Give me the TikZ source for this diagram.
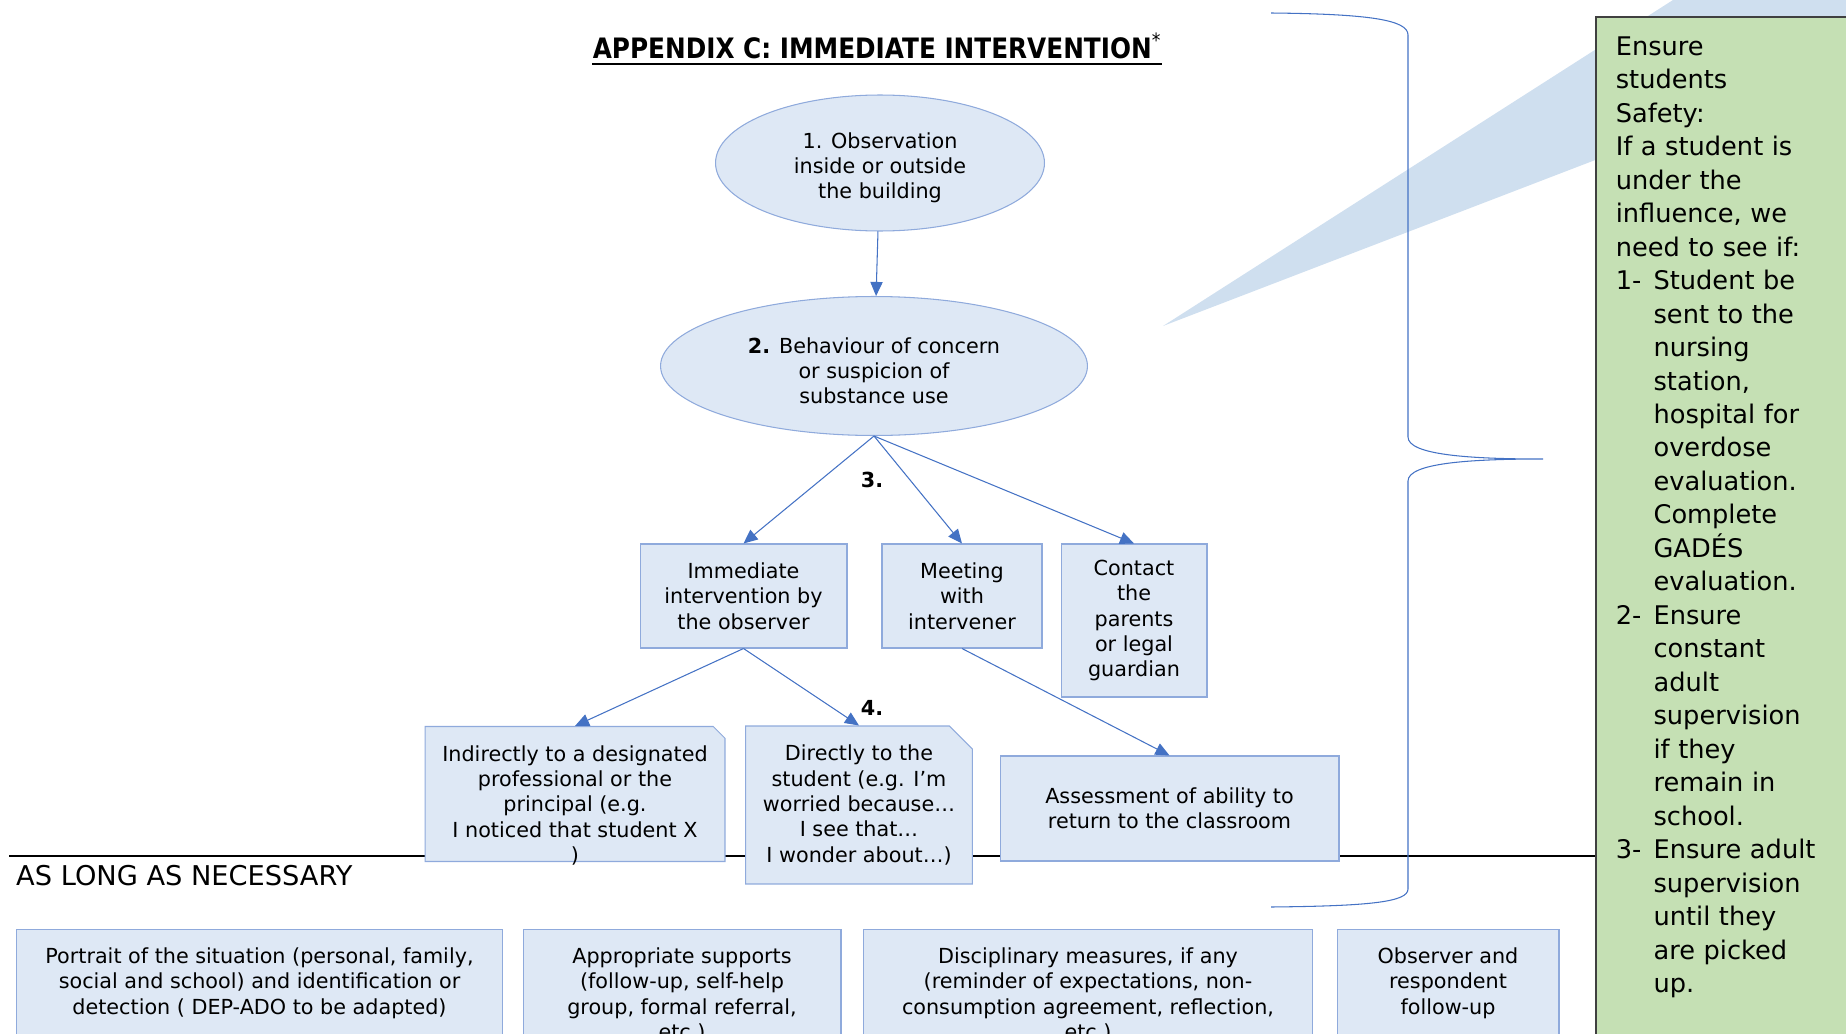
\documentclass[tikz,border=0pt]{standalone}
\usepackage{fontspec}
\setmainfont{DejaVu Sans}
\usetikzlibrary{shapes,shapes.misc,arrows.meta}

\definecolor{boxfill}{HTML}{DEE8F5}
\definecolor{boxline}{HTML}{8FAADC}
\definecolor{arrowblue}{HTML}{4472C4}
\definecolor{wedgeblue}{HTML}{CFDFEF}
\definecolor{safetygreen}{HTML}{C5E0B4}
\definecolor{safetyline}{HTML}{404040}
\newcommand{\bodysize}{\fontsize{11.8}{14.4}\selectfont}
\newcommand{\listlabel}[1]{\makebox[21.5pt][l]{#1}}

\begin{document}
\begin{tikzpicture}[x=0.02cm, y=-0.02cm, font=\bodysize]
      \tikzstyle{stage} = [ellipse, draw=boxline, fill=boxfill, line width=0.6pt, inner sep=0pt,
        text height=43pt, align=center]
      \tikzstyle{action} = [rectangle, draw=boxline, fill=boxfill, line width=0.6pt, align=center]
      \tikzstyle{note} = [chamfered rectangle, chamfered rectangle corners=north east,
        chamfered rectangle xsep=6.5pt, chamfered rectangle ysep=6.5pt,
        draw=boxline, fill=boxfill, line width=0.6pt, align=center]
      \tikzstyle{followup} = [action, anchor=north, inner ysep=10.4pt, text depth=3cm]
      \tikzstyle{flow} = [draw=arrowblue, line width=0.6pt, -{Triangle[length=8pt,width=7pt]}]
      \useasboundingbox (0,0) rectangle (1846,1034);
      \clip (0,0) rectangle (1846,1034);
      % callout wedge behind the green note
      \fill[wedgeblue] (1163,326) -- (1673,0) -- (1900,0) -- (1900,43) -- cycle;
      \draw[line width=1.4pt] (9,856) -- (1595,856);
      \node (title) [anchor=base, inner xsep=0pt, font=\fontsize{16}{19}\selectfont\bfseries] at (877,59)
        {\scalebox{0.88}[1]{APPENDIX C: IMMEDIATE INTERVENTION\textsuperscript{\normalfont *}}};
      \draw[line width=1.4pt] ([yshift=-3pt]title.base west) -- ([yshift=-3pt]title.base east);
      \node (observe) [stage, minimum width=6.58cm, minimum height=2.72cm] at (880,163)
        {1. Observation\\inside or outside\\the building};
      \node (concern) [stage, minimum width=8.54cm, minimum height=2.78cm] at (874,366)
        {\textbf{2.} Behaviour of concern\\or suspicion of\\substance use};
      \node (immediate) [action, minimum width=4.14cm, minimum height=2.08cm] at (743.5,596)
        {Immediate\\intervention by\\the observer};
      \node (meeting) [action, minimum width=3.2cm, minimum height=2.08cm] at (962,596)
        {Meeting\\with\\intervener};
      \node (contact) [action, minimum width=2.92cm, minimum height=3.06cm] at (1134,620.5)
        {Contact\\the\\parents\\or legal\\guardian};
      \node (indirect) [note, minimum width=6cm, minimum height=2.7cm] at (575,794) {};
      \node (indirecttext) [anchor=north, inner sep=0pt, align=center] at (575,745)
        {Indirectly to a designated\\professional or the\\principal (e.g.\\I noticed that student X\\)};
      \node (direct) [note, minimum width=4.4cm, minimum height=3.16cm] at (859,805)
        {Directly to the\\student (e.g. I'm\\worried because…\\I see that…\\I wonder about…)};
      \node (assess) [action, minimum width=6.78cm, minimum height=2.1cm] at (1169.5,808.5)
        {Assessment of ability to\\return to the classroom};
      \node (three) [font=\bodysize\bfseries] at (872,480) {3.};
      \node (four) [font=\bodysize\bfseries] at (872,708) {4.};
      \node (necessary) [anchor=base west, font=\fontsize{15.5}{18}\selectfont] at (10,885.5)
        {AS LONG AS NECESSARY};
      \node (portrait) [followup, minimum width=9.74cm] at (259.5,929)
        {Portrait of the situation (personal, family,\\social and school) and identification or\\detection ( DEP-ADO to be adapted)};
      \node (supports) [followup, minimum width=6.36cm] at (682,929)
        {Appropriate supports\\(follow-up, self-help\\group, formal referral,\\etc.)};
      \node (discipline) [followup, minimum width=9cm] at (1088,929)
        {Disciplinary measures, if any\\(reminder of expectations, non-\\consumption agreement, reflection,\\etc.)};
      \node (monitor) [followup, minimum width=4.44cm] at (1448,929)
        {Observer and\\respondent\\follow-up};
      \draw[flow] (observe) -- (concern);
      \draw[flow] (concern.south) -- (immediate.north);
      \draw[flow] (concern.south) -- (meeting.north);
      \draw[flow] (concern.south) -- (contact.north);
      \draw[flow] (immediate.south) -- (indirect.north);
      \draw[flow] (immediate.south) -- (direct.north);
      \draw[flow] (meeting.south) -- (assess.north);
      % brace
      \draw[arrowblue, line width=0.6pt] (1271,13) .. controls (1370,14) and (1408,20) .. (1408,35)
        -- (1408,437) .. controls (1408,455) and (1470,459) .. (1543,459)
        .. controls (1470,459) and (1408,463) .. (1408,481)
        -- (1408,889) .. controls (1408,902) and (1370,906) .. (1271,907);
      \node (safety) [anchor=north west, align=left, draw=safetyline, fill=safetygreen, line width=1.1pt,
        inner xsep=11.3pt, inner ysep=11.2pt, text width=8cm, text depth=21cm,
        font=\fontsize{14.6}{19.05}\selectfont] at (1595,16)
        {Ensure\\students\\Safety:\\If a student is\\under the\\influence, we\\need to see if:\\
         \listlabel{1-}Student be\\\listlabel{}sent to the\\\listlabel{}nursing\\\listlabel{}station,\\
         \listlabel{}hospital for\\\listlabel{}overdose\\\listlabel{}evaluation.\\\listlabel{}Complete\\
         \listlabel{}GADÉS\\\listlabel{}evaluation.\\
         \listlabel{2-}Ensure\\\listlabel{}constant\\\listlabel{}adult\\\listlabel{}supervision\\
         \listlabel{}if they\\\listlabel{}remain in\\\listlabel{}school.\\
         \listlabel{3-}Ensure adult\\\listlabel{}supervision\\\listlabel{}until they\\\listlabel{}are picked\\
         \listlabel{}up.};
    \end{tikzpicture}
\end{document}
